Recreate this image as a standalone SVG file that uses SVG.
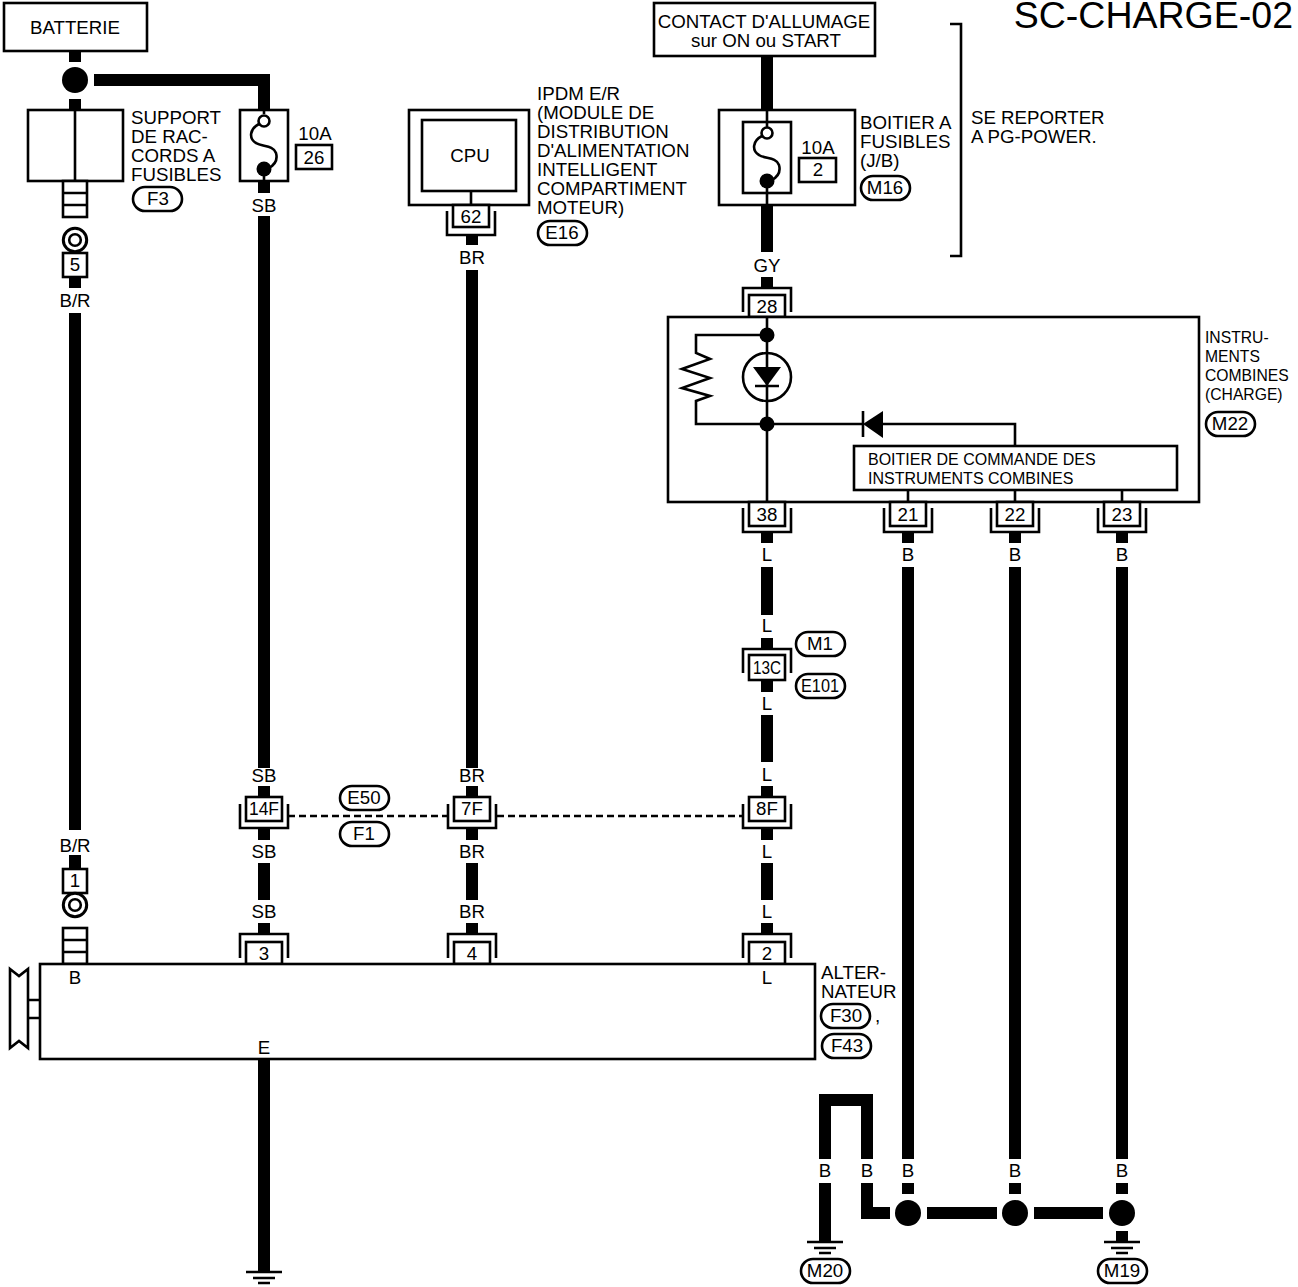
<svg xmlns="http://www.w3.org/2000/svg" xmlns:xlink="http://www.w3.org/1999/xlink" width="1298" height="1287" viewBox="0 0 1298 1287">
<style>
text{font-family:"Liberation Sans",Arial,sans-serif;font-size:18.7px;fill:#000}
.m{text-anchor:middle}
.s{font-size:16px}
.r{font-size:15.7px}
.b{fill:#fff;stroke:#000;stroke-width:2.6}
.n{fill:none;stroke:#000;stroke-width:2.6}
.w{fill:none;stroke:#000;stroke-width:12}
.d{fill:#000;stroke:none}
.p{fill:#fff;stroke:#000;stroke-width:2.6}
</style>
<defs>
<path id="uUp" class="n" d="M-24,24V0H24V24"/>
<path id="uDn" class="n" d="M-24,0V24H24V0"/>
<g id="gnd"><path class="n" d="M-18,0H18M-11,6H11M-6,11H6" stroke-width="3"/></g>
<rect id="pill" class="p" x="0" y="0" width="49" height="24" rx="12"/>
<path id="fuse" class="n" d="M-5,3C-15,8-15,18-8,22C-2,26 9,24 12,32C14,39 10,44 5,47"/>
<g id="stack"><rect class="b" x="-12" y="0" width="24" height="36"/><path class="n" d="M-12,12H12M-12,24H12"/></g>
<g id="ring"><circle cx="0" cy="0" r="11.7" fill="#fff" stroke="#000" stroke-width="3"/><circle cx="0" cy="0" r="5.8" fill="#fff" stroke="#000" stroke-width="2.6"/></g>
</defs>
<rect width="1298" height="1287" fill="#fff"/>
<g id="connectors">
<path class="w" d="M75,51V62M75,99V110M75,277V288M75,313V830M75,855V869"/>
<path class="w" d="M94,80H264V110M264,181V193M264,216V768M264,786V797M264,828V840M264,863V900M264,923V934M264,1059V1272"/>
<path class="w" d="M472,235V245M472,270V768M472,786V797M472,828V840M472,863V900M472,923V934"/>
<path class="w" d="M767,56V110M767,205V252M767,277V288M767,532V543M767,567V615M767,638V649M767,680V692M767,715V762M767,786V797M767,828V840M767,863V900M767,923V934"/>
<path class="w" d="M908,532V543M908,567V1159M908,1183V1194M1015,532V543M1015,567V1159M1015,1183V1194M1122,532V543M1122,567V1159M1122,1183V1194M1122,1231V1242"/>
<path class="w" d="M825,1159V1100H867V1159M825,1183V1242M867,1183V1213H890M927,1213H997M1034,1213H1103"/>
<path d="M288,816H447M497,816H743" fill="none" stroke="#000" stroke-width="2.6" stroke-dasharray="7 4"/>
<g class="m">
<text class="m" x="264" y="212">SB</text><text class="m" x="264" y="782">SB</text><text class="m" x="264" y="858">SB</text><text class="m" x="264" y="918">SB</text>
<text class="m" x="75" y="307">B/R</text><text class="m" x="75" y="852">B/R</text>
<text class="m" x="472" y="264">BR</text><text class="m" x="472" y="782">BR</text><text class="m" x="472" y="858">BR</text><text class="m" x="472" y="918">BR</text>
<text class="m" x="767" y="272">GY</text><text class="m" x="767" y="561">L</text><text class="m" x="767" y="632">L</text><text class="m" x="767" y="710">L</text><text class="m" x="767" y="781">L</text><text class="m" x="767" y="858">L</text><text class="m" x="767" y="918">L</text>
<text class="m" x="908" y="561">B</text><text class="m" x="1015" y="561">B</text><text class="m" x="1122" y="561">B</text>
<text class="m" x="825" y="1177">B</text><text class="m" x="867" y="1177">B</text><text class="m" x="908" y="1177">B</text><text class="m" x="1015" y="1177">B</text><text class="m" x="1122" y="1177">B</text>
</g>
<circle class="d" cx="75" cy="80" r="13"/>
<circle class="d" cx="908" cy="1213" r="13"/><circle class="d" cx="1015" cy="1213" r="13"/><circle class="d" cx="1122" cy="1213" r="13"/>
</g>
<g id="title"><text x="1293" y="28" text-anchor="end" style="font-size:37.5px">SC-CHARGE-02</text></g>
<g id="batterie"><rect class="b" x="4" y="3" width="143" height="48"/><text class="m" x="75" y="34">BATTERIE</text></g>
<g id="support-raccords">
<rect class="b" x="28" y="110" width="95" height="71"/><path class="n" d="M75,110V181"/>
<use xlink:href="#stack" href="#stack" x="75" y="181"/>
<text x="131" y="124">SUPPORT</text><text x="131" y="143">DE RAC-</text><text x="131" y="162">CORDS A</text><text x="131" y="181">FUSIBLES</text>
<use xlink:href="#pill" href="#pill" x="133" y="187"/><text class="m" x="158" y="205">F3</text>
</g>
<g id="terminal-5"><use xlink:href="#ring" href="#ring" x="75" y="240"/><rect class="b" x="63" y="253" width="24" height="24"/><text class="m" x="75" y="271">5</text></g>
<g id="fuse-26">
<rect class="b" x="240" y="110" width="48" height="71"/><path class="n" d="M264,110V114M264,176V181"/>
<use xlink:href="#fuse" href="#fuse" x="264" y="121"/>
<circle cx="264" cy="121" r="5.5" fill="#fff" stroke="#000" stroke-width="2.6"/><circle class="d" cx="264" cy="169" r="7.5"/>
<text class="m" x="315" y="140">10A</text><rect class="b" x="296" y="145" width="36" height="24"/><text class="m" x="314" y="164">26</text>
</g>
<g id="ipdm">
<rect class="b" x="409" y="110" width="120" height="95"/><rect class="b" x="422" y="120" width="94" height="71"/>
<path class="n" d="M471,191V205"/><text class="m" x="470" y="162">CPU</text>
<rect class="b" x="453" y="205" width="36" height="22"/><use xlink:href="#uDn" href="#uDn" x="471" y="211"/><text class="m" x="471" y="223">62</text>
<text x="537" y="100">IPDM E/R</text><text x="537" y="119">(MODULE DE</text><text x="537" y="138">DISTRIBUTION</text><text x="537" y="157">D'ALIMENTATION</text><text x="537" y="176">INTELLIGENT</text><text x="537" y="195">COMPARTIMENT</text><text x="537" y="214">MOTEUR)</text>
<use xlink:href="#pill" href="#pill" x="538" y="221"/><text class="m" x="562" y="239">E16</text>
</g>
<g id="contact"><rect class="b" x="654" y="3" width="221" height="53"/><text class="m" x="764" y="28">CONTACT D'ALLUMAGE</text><text class="m" x="766" y="47">sur ON ou START</text></g>
<g id="boitier-fusibles">
<rect class="b" x="719" y="110" width="136" height="95"/><rect class="b" x="743" y="122" width="48" height="71"/>
<path class="n" d="M767,110V127M767,186V205"/>
<use xlink:href="#fuse" href="#fuse" x="767" y="133"/>
<circle cx="767" cy="133" r="5.5" fill="#fff" stroke="#000" stroke-width="2.6"/><circle class="d" cx="767" cy="181" r="7.5"/>
<text class="m" x="818" y="154">10A</text><rect class="b" x="799" y="158" width="37" height="24"/><text class="m" x="818" y="176">2</text>
<text x="860" y="129">BOITIER A</text><text x="860" y="148">FUSIBLES</text><text x="860" y="167">(J/B)</text>
<use xlink:href="#pill" href="#pill" x="861" y="176"/><text class="m" x="885" y="194">M16</text>
</g>
<g id="reference-pg-power">
<path class="n" d="M950,24H961V256H950"/><text x="971" y="124">SE REPORTER</text><text x="971" y="143">A PG-POWER.</text>
</g>
<g id="connector-28"><rect class="b" x="749" y="295" width="36" height="22"/><use xlink:href="#uUp" href="#uUp" x="767" y="288"/><text class="m" x="767" y="313">28</text></g>
<g id="instruments">
<rect class="b" x="668" y="317" width="531" height="185"/>
<path class="n" d="M767,317V502M767,335H696V353L710,359L682,369L710,378L682,388L710,396L696,401V424H863M883,424H1015V446M908,490V502M1015,490V502M1122,490V502"/>
<circle class="d" cx="767" cy="335" r="7.5"/><circle class="d" cx="767" cy="424" r="7.5"/>
<circle class="n" cx="767" cy="377" r="24"/>
<path class="d" d="M753,367H781L767,386Z"/><path class="n" d="M755,386H779M863,411V437"/>
<path class="d" d="M863,424L883,411V438Z"/>
<rect class="b" x="854" y="446" width="323" height="44"/>
<text class="s" x="868" y="465">BOITIER DE COMMANDE DES</text><text class="s" x="868" y="484">INSTRUMENTS COMBINES</text>
<text class="r" x="1205" y="343">INSTRU-</text><text class="r" x="1205" y="362">MENTS</text><text class="r" x="1205" y="381">COMBINES</text><text class="r" x="1205" y="400">(CHARGE)</text>
<use xlink:href="#pill" href="#pill" x="1206" y="412"/><text class="m" x="1230" y="430">M22</text>
</g>
<g id="connector-38"><rect class="b" x="749" y="502" width="36" height="24"/><use xlink:href="#uDn" href="#uDn" x="767" y="508"/><text class="m" x="767" y="521">38</text></g>
<g id="connector-21"><rect class="b" x="890" y="502" width="36" height="24"/><use xlink:href="#uDn" href="#uDn" x="908" y="508"/><text class="m" x="908" y="521">21</text></g>
<g id="connector-22"><rect class="b" x="997" y="502" width="36" height="24"/><use xlink:href="#uDn" href="#uDn" x="1015" y="508"/><text class="m" x="1015" y="521">22</text></g>
<g id="connector-23"><rect class="b" x="1104" y="502" width="36" height="24"/><use xlink:href="#uDn" href="#uDn" x="1122" y="508"/><text class="m" x="1122" y="521">23</text></g>
<g id="connector-13C">
<rect class="b" x="749" y="655" width="36" height="25"/><use xlink:href="#uUp" href="#uUp" x="767" y="649"/><text class="m" x="767" y="674" textLength="28" lengthAdjust="spacingAndGlyphs">13C</text>
<use xlink:href="#pill" href="#pill" x="796" y="632"/><text class="m" x="820" y="650">M1</text>
<use xlink:href="#pill" href="#pill" x="796" y="674"/><text class="m" x="820" y="692" textLength="38" lengthAdjust="spacingAndGlyphs">E101</text>
</g>
<g id="connector-14F"><rect class="b" x="246" y="797" width="36" height="24"/><use xlink:href="#uDn" href="#uDn" x="264" y="804"/><text class="m" x="264" y="815" textLength="30" lengthAdjust="spacingAndGlyphs">14F</text></g>
<g id="connector-7F"><rect class="b" x="454" y="797" width="36" height="24"/><use xlink:href="#uDn" href="#uDn" x="472" y="804"/><text class="m" x="472" y="815">7F</text></g>
<g id="connector-8F"><rect class="b" x="749" y="797" width="36" height="24"/><use xlink:href="#uDn" href="#uDn" x="767" y="804"/><text class="m" x="767" y="815">8F</text></g>
<g id="harness-E50-F1">
<use xlink:href="#pill" href="#pill" x="340" y="786"/><text class="m" x="364" y="804">E50</text>
<use xlink:href="#pill" href="#pill" x="340" y="822"/><text class="m" x="364" y="840">F1</text>
</g>
<g id="terminal-1"><rect class="b" x="63" y="869" width="24" height="24"/><text class="m" x="75" y="887">1</text><use xlink:href="#ring" href="#ring" x="75" y="905"/></g>
<g id="connector-3"><rect class="b" x="246" y="942" width="36" height="22"/><use xlink:href="#uUp" href="#uUp" x="264" y="934"/><text class="m" x="264" y="960">3</text></g>
<g id="connector-4"><rect class="b" x="454" y="942" width="36" height="22"/><use xlink:href="#uUp" href="#uUp" x="472" y="934"/><text class="m" x="472" y="960">4</text></g>
<g id="connector-2"><rect class="b" x="749" y="942" width="36" height="22"/><use xlink:href="#uUp" href="#uUp" x="767" y="934"/><text class="m" x="767" y="960">2</text></g>
<g id="alternateur">
<use xlink:href="#stack" href="#stack" x="75" y="928"/>
<rect class="b" x="40" y="964" width="775" height="95"/>
<path class="n" d="M28,1000H40M28,1018H40"/>
<path class="b" d="M10,969L19,976L28,969V1048L19,1041L10,1048Z"/>
<text class="m" x="75" y="984">B</text><text class="m" x="767" y="984">L</text><text class="m" x="264" y="1054">E</text>
<text x="821" y="979">ALTER-</text><text x="821" y="998">NATEUR</text>
<use xlink:href="#pill" href="#pill" x="821" y="1004"/><text class="m" x="846" y="1022">F30</text><text x="875" y="1022">,</text>
<use xlink:href="#pill" href="#pill" x="822" y="1034"/><text class="m" x="847" y="1052">F43</text>
</g>
<g id="ground-E"><use xlink:href="#gnd" href="#gnd" x="264" y="1272"/></g>
<g id="ground-M20"><use xlink:href="#gnd" href="#gnd" x="825" y="1242"/><use xlink:href="#pill" href="#pill" x="801" y="1259"/><text class="m" x="825" y="1277">M20</text></g>
<g id="ground-M19"><use xlink:href="#gnd" href="#gnd" x="1122" y="1242"/><use xlink:href="#pill" href="#pill" x="1098" y="1259"/><text class="m" x="1122" y="1277">M19</text></g>
</svg>
